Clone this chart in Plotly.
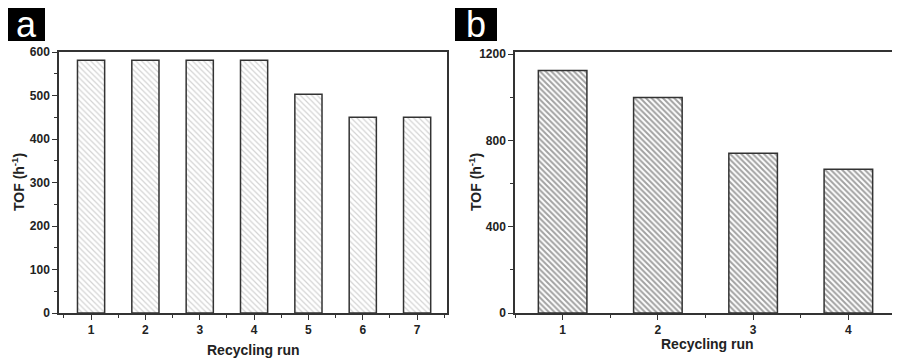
import plotly.graph_objects as go

# data
runs_a = [1, 2, 3, 4, 5, 6, 7]
tof_a = [581, 581, 581, 581, 503, 450, 450]
runs_b = [1, 2, 3, 4]
tof_b = [1124, 999, 741, 667]

FONT = "Liberation Sans, Arial, sans-serif"
INK = "#222222"

# the page body adds an 8px margin, so work in page pixels and shift
W, H, OFF = 892, 354, 8


def px(x):
    return (x - OFF) / W


def py(y):
    return 1 - (y - OFF) / H


fig = go.Figure()
fig.add_trace(go.Bar(
    x=runs_a, y=tof_a, width=0.5, xaxis="x", yaxis="y",
    marker=dict(color="white", line=dict(color="#333333", width=1.5),
                pattern=dict(shape="\\", fgcolor="#a8a8a8", bgcolor="white",
                             size=4, solidity=0.3)),
    showlegend=False,
))
fig.add_trace(go.Bar(
    x=runs_b, y=tof_b, width=0.51, xaxis="x2", yaxis="y2",
    marker=dict(color="white", line=dict(color="#333333", width=1.5),
                pattern=dict(shape="\\", fgcolor="#444444", bgcolor="white",
                             size=4, solidity=0.5)),
    showlegend=False,
))

axis_common = dict(
    showline=True, linecolor="#333333", linewidth=1.5, mirror=True,
    ticks="outside", ticklen=5, tickwidth=1.2, tickcolor="#333333",
    showgrid=False, zeroline=False, automargin=False,
    tickfont=dict(family=FONT, size=12, color=INK, weight="bold"),
)

fig.update_layout(
    width=W, height=H,
    margin=dict(l=0, r=0, t=0, b=0),
    paper_bgcolor="white", plot_bgcolor="white",
    xaxis=dict(domain=[px(59), px(447)], range=[0.41, 7.55], tickvals=runs_a,
               minor=dict(ticks="outside", ticklen=3, tick0=0.5, dtick=1,
                          tickcolor="#333333"),
               anchor="y", **axis_common),
    yaxis=dict(domain=[py(313), py(52)], range=[0, 600], dtick=100,
               minor=dict(ticks="outside", ticklen=3, dtick=50,
                          tickcolor="#333333"),
               anchor="x", **axis_common),
    xaxis2=dict(domain=[px(515), px(896)], range=[0.5, 4.5], tickvals=runs_b,
                minor=dict(ticks="outside", ticklen=3, tick0=0.5, dtick=1,
                           tickcolor="#333333"),
                anchor="y2", **axis_common),
    yaxis2=dict(domain=[py(313), py(52)], range=[0, 1210], tickvals=[0, 400, 800, 1200],
                minor=dict(ticks="outside", ticklen=3, tick0=0, dtick=200,
                           tickcolor="#333333"),
                anchor="x2", **axis_common),
)

title_font = dict(family=FONT, size=14, color=INK, weight="bold")
# axis titles
for x, y, txt, ang in [
    (18, 182, "TOF (h<sup>-1</sup>)", -90),
    (475, 182, "TOF (h<sup>-1</sup>)", -90),
    (253, 350, "Recycling run", 0),
    (707, 344, "Recycling run", 0),
]:
    fig.add_annotation(x=px(x), y=py(y), xref="paper", yref="paper",
                       text=txt, textangle=ang, showarrow=False,
                       font=title_font, xanchor="center", yanchor="middle")

# panel letters in black boxes
for x0, x1, letter in [(8, 45, "a"), (455, 497, "b")]:
    fig.add_shape(type="rect", xref="paper", yref="paper",
                  x0=px(x0), x1=px(x1), y0=py(41), y1=py(8),
                  fillcolor="black", line=dict(width=0))
    fig.add_annotation(x=px((x0 + x1) / 2), y=py(24), xref="paper", yref="paper",
                       text=letter, showarrow=False, xanchor="center", yanchor="middle",
                       font=dict(family=FONT, size=36, color="white"))

fig.write_html("out.html")
